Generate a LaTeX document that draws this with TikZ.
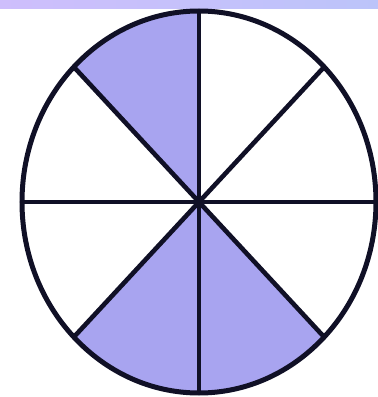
\documentclass[tikz,border=0pt]{standalone}
\usetikzlibrary{calc}
\definecolor{slicefill}{RGB}{168,164,240}
\definecolor{bandleft}{RGB}{206,190,252}
\definecolor{bandright}{RGB}{188,196,250}
\definecolor{inkline}{RGB}{16,16,38}

\begin{document}
\begin{tikzpicture}[
    x=1pt, y=1pt,
    rim/.style={draw=inkline, line width=5pt},
    spoke/.style={draw=inkline, line width=4.6pt},
    slice/.style={fill=slicefill}
  ]
    \useasboundingbox (0,0) rectangle (378,397);
    \fill[white] (0,0) rectangle (378,397);
    \shade[left color=bandleft, right color=bandright] (0,388) rectangle (378,397);

    \coordinate (c) at (199,195);

    % shaded eighths
    \foreach \a in {90,225,270}
      \fill[slice] (c) -- ($(c)+(\a:177 and 191)$)
        arc[start angle=\a, end angle=\a+45, x radius=177, y radius=191] -- cycle;

    % spokes
    \foreach \a in {0,45,90,135}
      \draw[spoke] ($(c)+(\a:177 and 191)$) -- ($(c)+(\a+180:177 and 191)$);

    \draw[rim] (c) ellipse [x radius=177, y radius=191];
    \fill[inkline] (c) circle (5.5);
  \end{tikzpicture}
\end{document}
